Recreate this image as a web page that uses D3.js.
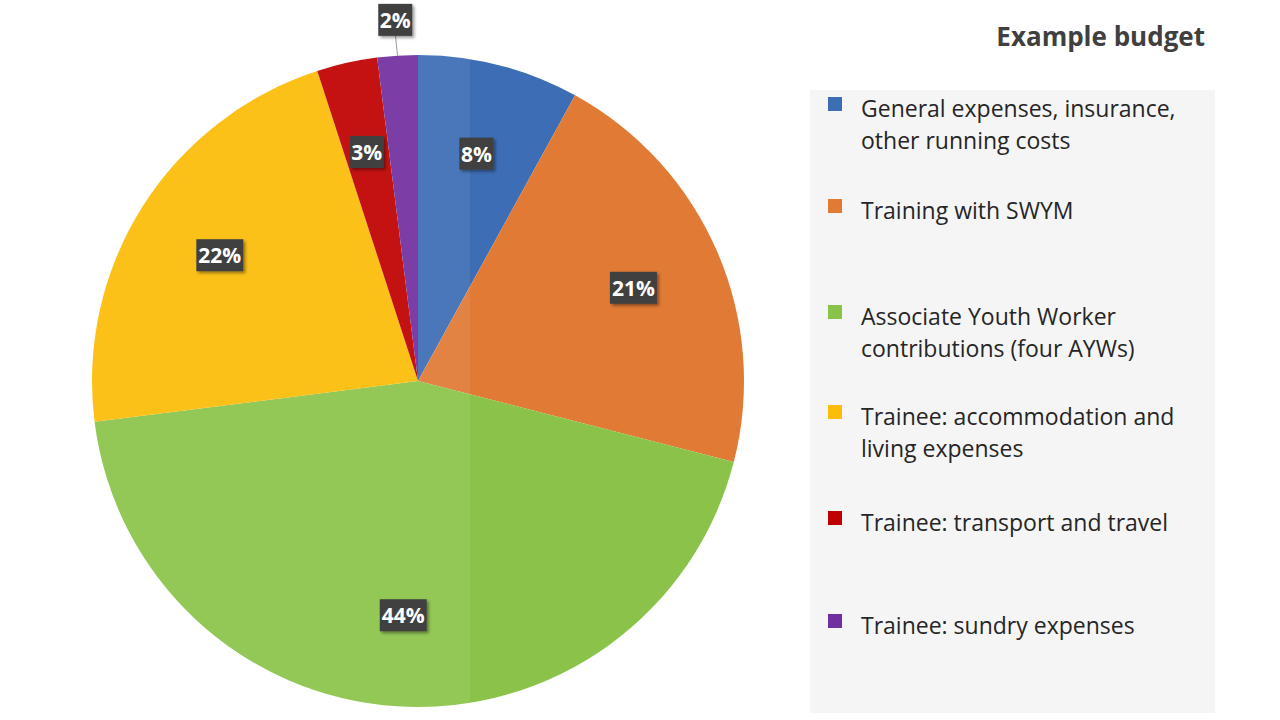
<!DOCTYPE html>
<html><head><meta charset="utf-8">
<script src="https://cdn.jsdelivr.net/npm/d3@7"></script>
<style>body{margin:0;background:#fff;font-family:"Open Sans",Calibri,sans-serif;}</style>
</head><body>
<svg id="chart" width="1280" height="720"></svg>
<script>
var categories = ["General expenses, insurance, other running costs", "Training with SWYM",
  "Associate Youth Worker contributions (four AYWs)", "Trainee: accommodation and living expenses",
  "Trainee: transport and travel", "Trainee: sundry expenses"];
var legendLines = [["General expenses, insurance,", "other running costs"], ["Training with SWYM"],
  ["Associate Youth Worker", "contributions (four AYWs)"], ["Trainee: accommodation and", "living expenses"],
  ["Trainee: transport and travel"], ["Trainee: sundry expenses"]];
var values = [8, 21, 44, 22, 3, 2];
var colors = ["#3d6db5", "#e07a35", "#8bc34a", "#fbbd08", "#c00000", "#7030a0"];
var legendY = [108, 210, 316, 416, 522, 625];

var svg = d3.select("#chart");
var cx = 418, cy = 381, R = 326;

var pie = d3.pie().sort(null).value(function(d) { return d; });
var arc = d3.arc().innerRadius(0).outerRadius(R);
var labelArc = d3.arc().innerRadius(R * 0.72).outerRadius(R * 0.72);
var outerArc = d3.arc().innerRadius(R * 1.11).outerRadius(R * 1.11);
var arcs = pie(values);

var defs = svg.append("defs");
defs.append("clipPath").attr("id", "pieclip").append("circle").attr("r", R);
var f = defs.append("filter").attr("id", "shadow").attr("x", "-20%").attr("y", "-20%").attr("width", "150%").attr("height", "150%");
f.append("feDropShadow").attr("dx", 2).attr("dy", 2).attr("stdDeviation", 1.5).attr("flood-opacity", 0.4);

// legend panel
svg.append("rect").attr("x", 810).attr("y", 90).attr("width", 405).attr("height", 623).attr("fill", "#f5f5f5");
svg.append("text").attr("x", 1205).attr("y", 46).attr("text-anchor", "end")
  .attr("font-size", 26).attr("font-weight", "bold").attr("fill", "#404040").text("Example budget");

var g = svg.append("g").attr("transform", "translate(" + cx + "," + cy + ")");
g.selectAll("path.slice").data(arcs).enter().append("path")
  .attr("class", "slice").attr("d", arc).attr("fill", function(d, i) { return colors[i]; });
// lighter left half highlight
g.append("rect").attr("x", -R).attr("y", -R).attr("width", R + 52).attr("height", 2 * R)
  .attr("fill", "#fff").attr("opacity", 0.07).attr("clip-path", "url(#pieclip)");

// labels
arcs.forEach(function(d, i) {
  var p = i === 5 ? outerArc.centroid(d) : labelArc.centroid(d);
  var txt = values[i] + "%";
  if (i === 5) {
    var e = arc.centroid(d); var edge = d3.arc().innerRadius(R).outerRadius(R).centroid(d);
    g.append("line").attr("x1", edge[0]).attr("y1", edge[1]).attr("x2", p[0]).attr("y2", p[1] + 14)
      .attr("stroke", "#999").attr("stroke-width", 1);
  }
  var w = txt.length * 13 + 8;
  g.append("rect").attr("x", p[0] - w / 2).attr("y", p[1] - 16).attr("width", w).attr("height", 32)
    .attr("fill", "#404040").attr("filter", "url(#shadow)");
  g.append("text").attr("x", p[0]).attr("y", p[1] + 8).attr("text-anchor", "middle")
    .attr("font-size", 21).attr("font-weight", "bold").attr("fill", "#fff").text(txt);
});

// legend
var lg = svg.append("g");
categories.forEach(function(c, i) {
  var y = legendY[i];
  lg.append("rect").attr("x", 828).attr("y", y - 11).attr("width", 14).attr("height", 14).attr("fill", colors[i]);
  legendLines[i].forEach(function(line, j) {
    lg.append("text").attr("x", 861).attr("y", y + 9 + j * 32).attr("font-size", 23)
      .attr("fill", "#262626").text(line);
  });
});
</script>
</body></html>
